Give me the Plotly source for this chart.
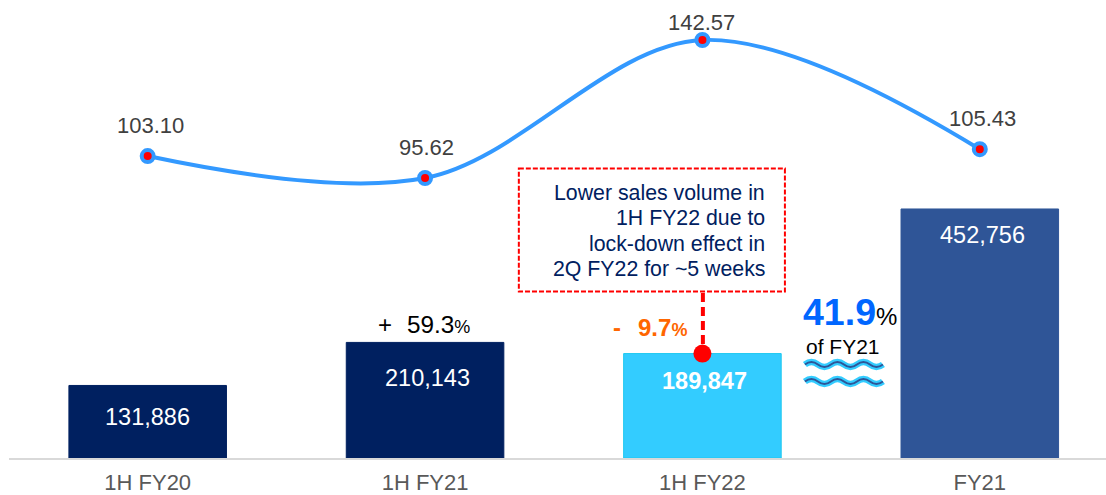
import plotly.graph_objects as go

W, H = 1106, 495
FONT = "Liberation Sans"
ML, MB = 9.3, 37

categories = ["1H FY20", "1H FY21", "1H FY22", "FY21"]
bar_values = [131886, 210143, 189847, 452756]
line_values = [103.10, 95.62, 142.57, 105.43]
bar_colors = ["#002060", "#002060", "#33CCFF", "#2F5597"]
bar_borders = ["#002060", "#002060", "#1CC8F0", "#2F5597"]
bar_labels = ["131,886", "210,143", "<b>189,847</b>", "452,756"]
bar_label_px = [(147.5, 417), (428, 378), (705, 381), (982.5, 235)]
line_labels = ["103.10", "95.62", "142.57", "105.43"]
line_label_px = [(151, 126), (427, 147), (702, 23), (983, 118)]
callout_lines = ["Lower sales volume in", "1H FY22 due to", "lock-down effect in", "2Q FY22 for ~5 weeks"]


def px(x):
    return (x - ML) / (W - ML)


def py(y):
    return (H - MB - y) / (H - MB)


fig = go.Figure()
fig.add_bar(
    x=categories, y=bar_values, width=0.568,
    marker=dict(color=bar_colors, line=dict(color=bar_borders, width=1)),
    hoverinfo="skip",
)
fig.add_scatter(
    x=categories, y=line_values, yaxis="y2", mode="lines+markers",
    line=dict(color="#3399FF", width=4, shape="spline", smoothing=1.0),
    marker=dict(color="#FF0000", size=12, line=dict(color="#3399FF", width=4)),
    hoverinfo="skip",
)
fig.add_scatter(
    x=[categories[2]], y=[bar_values[2]], mode="markers",
    marker=dict(color="#FF0000", size=18), hoverinfo="skip",
)

ann = []


def text(x, y, s, size, color, anchor="center"):
    ann.append(dict(
        xref="paper", yref="paper", x=px(x), y=py(y), text=s, showarrow=False,
        xanchor=anchor, yanchor="middle",
        font=dict(family=FONT, size=size, color=color),
        align=anchor if anchor != "center" else "center",
    ))


for s, (x, y) in zip(bar_labels, bar_label_px):
    text(x, y, s, 23.5, "#FFFFFF")
for s, (x, y) in zip(line_labels, line_label_px):
    text(x, y, s, 22, "#404040")
for i, s in enumerate(callout_lines):
    text(767, 193 + i * 25.3, s, 21.3, "#002060", "right")

text(376, 324, "+", 24, "#000000", "left")
text(405, 324, "59.3<span style='font-size:18px'>%</span>", 24.3, "#000000", "left")
text(611, 327, "<b>-</b>", 24, "#FF6600", "left")
text(636, 327, "<b>9.7<span style='font-size:18px'>%</span></b>", 24, "#FF6600", "left")
text(801, 312, "<b><span style='color:#0066FF'>41.9</span></b><span style='font-size:24px'>%</span>", 37.5, "#000000", "left")
text(843, 346, "of FY21", 21, "#000000")

shapes = [
    dict(type="rect", xref="paper", yref="paper", x0=px(519), x1=px(785), y0=py(168.5), y1=py(291.5),
         line=dict(color="#FF0000", width=2, dash="5px,2px"), fillcolor="rgba(0,0,0,0)"),
    dict(type="line", xref="paper", yref="paper", x0=px(703), x1=px(703), y0=py(293), y1=py(345),
         line=dict(color="#FF0000", width=4, dash="9px,5px")),
]

for y0 in (364.5, 381.5):
    path = f"M {px(805):.5f} {py(y0):.5f}"
    xs = 805
    step = 13
    for k in range(6):
        up = -5 if k % 2 == 0 else 5
        path += (f" Q {px(xs + step / 2):.5f} {py(y0 + up):.5f}"
                 f" {px(xs + step):.5f} {py(y0):.5f}")
        xs += step
    for width, color in [(6.5, "#33CCFF"), (2, "#2F5597")]:
        shapes.append(dict(type="path", xref="paper", yref="paper", path=path,
                           line=dict(color=color, width=width)))

fig.update_layout(
    width=W, height=H, autosize=False,
    margin=dict(l=ML, r=0, t=0, b=MB),
    paper_bgcolor="#FFFFFF", plot_bgcolor="#FFFFFF",
    showlegend=False, barmode="overlay",
    font=dict(family=FONT),
    annotations=ann, shapes=shapes,
    xaxis=dict(
        type="category", categoryorder="array", categoryarray=categories,
        range=[-0.5, 3.455], showgrid=False, zeroline=False,
        showline=True, linecolor="#D9D9D9", linewidth=1.5, ticks="",
        tickfont=dict(family=FONT, size=22, color="#595959"), ticklen=0,
        ticklabelstandoff=4,
    ),
    yaxis=dict(range=[0, 832700], visible=False, showgrid=False, zeroline=False),
    yaxis2=dict(range=[0.38, 156.18], overlaying="y", visible=False, showgrid=False, zeroline=False),
)
fig.write_html("out.html", config={"displayModeBar": False},
               post_script="document.body.style.margin='0';document.body.style.overflow='hidden';")
